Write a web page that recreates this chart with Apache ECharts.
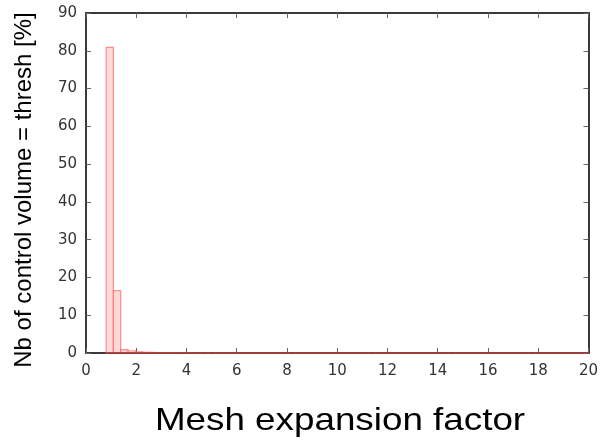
<!DOCTYPE html>
<html><head><meta charset="utf-8">
<script src="https://cdn.jsdelivr.net/npm/echarts@6/dist/echarts.min.js"></script>
<style>html,body{margin:0;padding:0;background:#fff}#c{width:601px;height:444px}</style>
</head><body><div id="c"></div>
<script>
// Histogram bins (left edges), width 0.29
const binStart = 0.8;
const binWidth = 0.29;
const binValues = [80.9, 16.5, 0.9, 0.6, 0.3, 0.2, 0.15, 0.1, 0.1, 0.08, 0.06, 0.05, 0.05, 0.04, 0.04, 0.03, 0.03, 0.03, 0.02, 0.02,
  0.02, 0.02, 0.02, 0.02, 0.01, 0.01, 0.01, 0.01, 0.01, 0.01, 0.01, 0.01, 0.01, 0.01, 0.01, 0.01, 0.01, 0.01, 0.01, 0.01,
  0.01, 0.01, 0.01, 0.01, 0.01, 0.01, 0.01, 0.01, 0.01, 0.01, 0.01, 0.01, 0.01, 0.01, 0.01, 0.01, 0.01, 0.01, 0.01, 0.01,
  0.01, 0.01, 0.01, 0.01, 0.01, 0.01];
const xTicks = [0, 2, 4, 6, 8, 10, 12, 14, 16, 18, 20];
const yTicks = [0, 10, 20, 30, 40, 50, 60, 70, 80, 90];
const xTitle = 'Mesh expansion factor';
const yTitle = 'Nb of control volume = thresh [%]';

const data = binValues.map((v, i) => [binStart + i * binWidth, Math.min(20, binStart + (i + 1) * binWidth), v]);

const chart = echarts.init(document.getElementById('c'), null, {renderer: 'canvas'});
function axisCommon() {
  return {
    axisLine: {show: true, onZero: false, lineStyle: {color: '#3a3a3a', width: 2}},
    axisTick: {show: true, inside: true, length: 5, lineStyle: {color: '#666', width: 1}},
    splitLine: {show: false}
  };
}
const labelStyle = {color: '#333', fontSize: 15, fontFamily: 'DejaVu Sans'};
chart.setOption({
  animation: false,
  backgroundColor: '#fff',
  grid: {left: 86, right: 10, top: 13, bottom: 91},
  xAxis: [
    Object.assign({type: 'value', min: xTicks[0], max: xTicks[xTicks.length - 1], interval: 2, position: 'bottom',
      axisLabel: Object.assign({margin: 11, showMaxLabel: true}, labelStyle)}, axisCommon()),
    Object.assign({type: 'value', min: xTicks[0], max: xTicks[xTicks.length - 1], interval: 2, position: 'top',
      axisLabel: {show: false}}, axisCommon())
  ],
  yAxis: [
    Object.assign({type: 'value', min: yTicks[0], max: yTicks[yTicks.length - 1], interval: 10, position: 'left',
      axisLabel: Object.assign({margin: 9}, labelStyle)}, axisCommon()),
    Object.assign({type: 'value', min: yTicks[0], max: yTicks[yTicks.length - 1], interval: 10, position: 'right',
      axisLabel: {show: false}}, axisCommon())
  ],
  graphic: [
    {type: 'text', x: 340, y: 421, scaleX: 1.15, style: {text: xTitle, fontSize: 32, fontFamily: 'Liberation Sans', fill: '#000', align: 'center', verticalAlign: 'middle'}},
    {type: 'text', x: 24, y: 190, rotation: Math.PI / 2, style: {text: yTitle, fontSize: 24, fontFamily: 'Liberation Sans', fill: '#000', align: 'center', verticalAlign: 'middle'}}
  ],
  series: [{
    type: 'custom',
    xAxisIndex: 0, yAxisIndex: 0,
    data: data,
    renderItem: function (params, api) {
      const p0 = api.coord([api.value(0), 0]);
      const p1 = api.coord([api.value(1), api.value(2)]);
      return {
        type: 'rect',
        shape: {x: p0[0], y: p1[1], width: p1[0] - p0[0], height: p0[1] - p1[1]},
        style: {fill: 'rgba(255,190,190,0.6)', stroke: 'rgba(255,110,110,0.75)', lineWidth: 1.2}
      };
    }
  }, {
    type: 'line',
    xAxisIndex: 0, yAxisIndex: 0,
    data: [[binStart, 0], [20, 0]],
    symbol: 'none',
    lineStyle: {color: '#a03030', width: 1.5}
  }]
});
</script></body></html>
